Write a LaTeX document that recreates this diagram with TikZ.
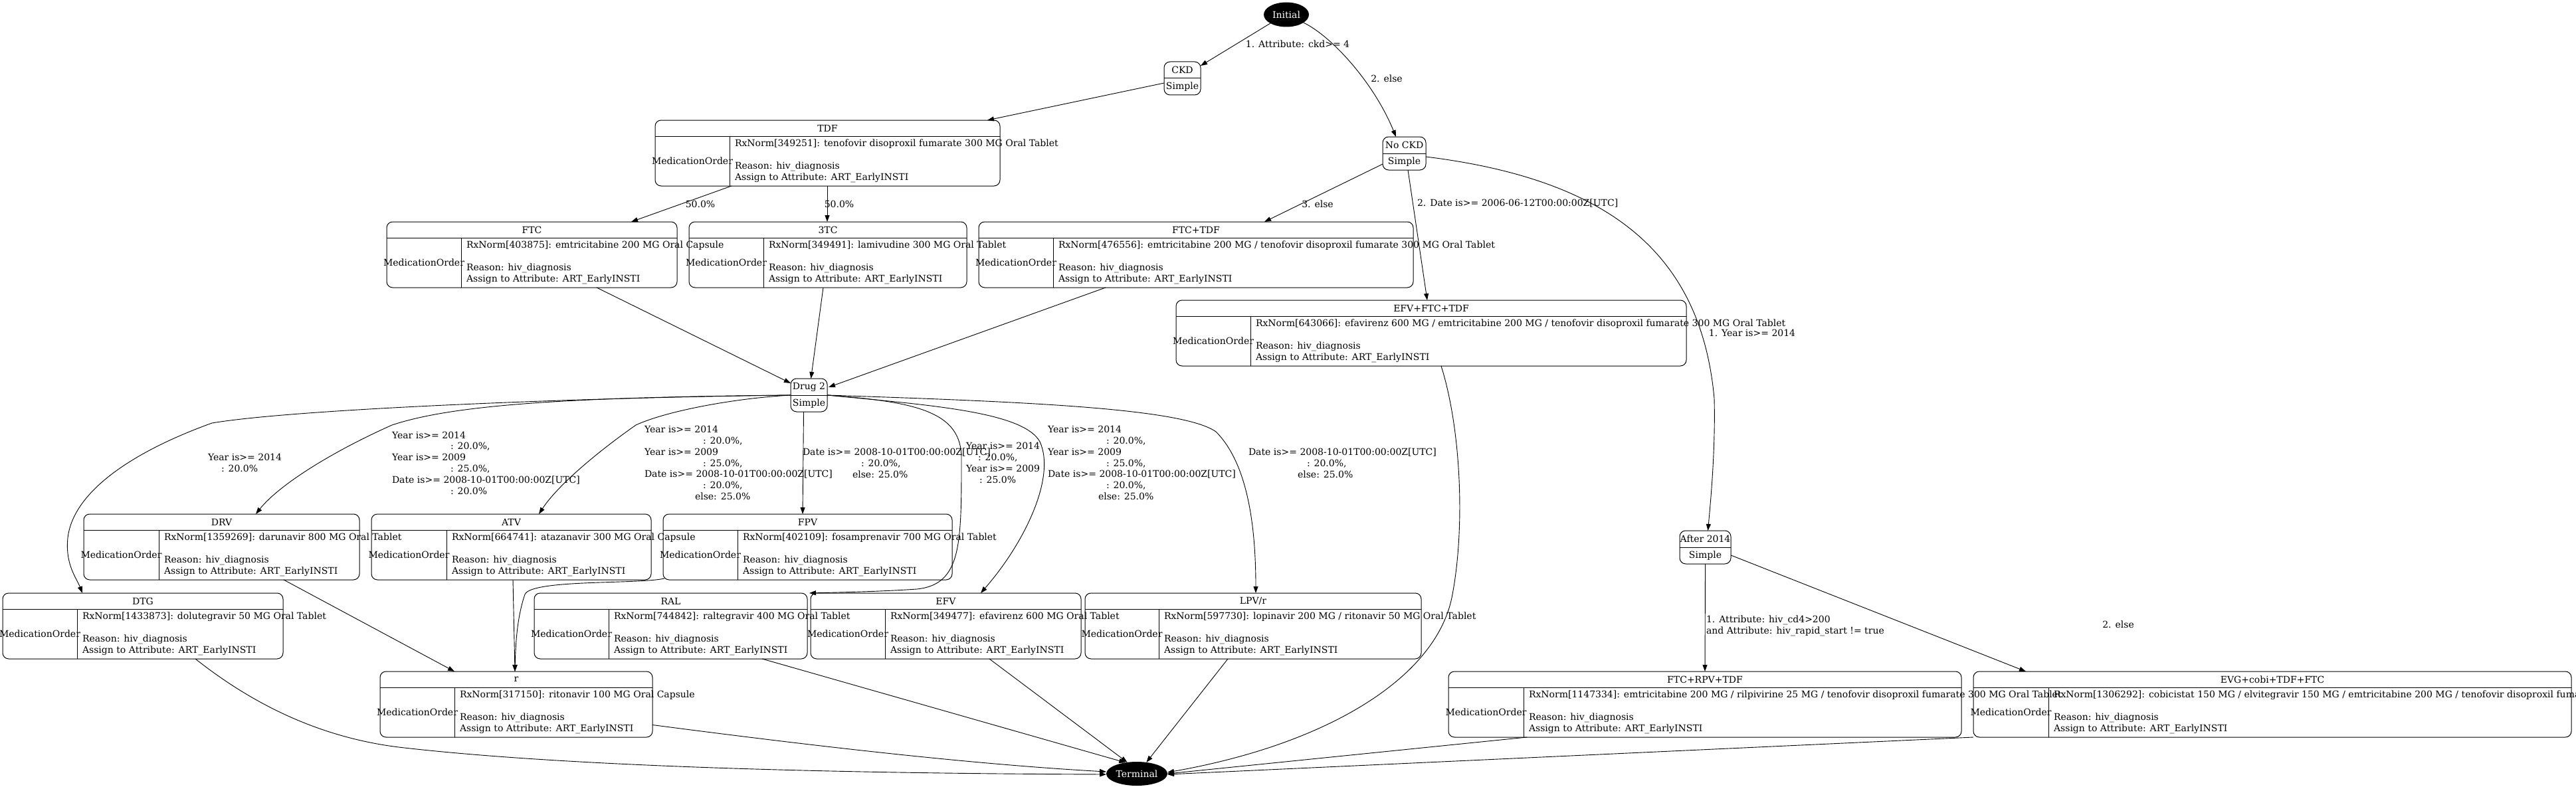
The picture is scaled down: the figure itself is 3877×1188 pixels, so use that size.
\documentclass[tikz,border=0pt]{standalone}
\usepackage{fontspec}
\setmainfont{DejaVu Serif}
\usetikzlibrary{arrows.meta,shapes.geometric,calc}
\tikzset{
 gv/.style={font=\fontsize{14}{16.8}\selectfont, inner sep=0pt, outer sep=0pt},
 boxs/.style={draw, rounded corners=9pt, line width=1pt, anchor=north west, inner sep=0pt},
 sepline/.style={line width=1pt},
 arr/.style={line width=0.9pt, -{Triangle[length=10pt,width=7pt]}},
 term/.style={ellipse, fill=black, text=white},
 lbl/.style={align=left, anchor=west},
}
\newcommand\gvmed[7]{%
 \node[boxs, minimum width={#3-#2}, minimum height=99] (#1) at (#2,#4) {};
 \draw[sepline] (#2,#4+24) -- (#3,#4+24);
 \draw[sepline] (#5,#4+24) -- (#5,#4+99);
 \node (#1t) at ({(#2+#3)/2},#4+12) {#6};
 \node (#1m) at ({(#2+#5)/2},#4+61.5) {MedicationOrder};
 \node[anchor=west, align=left] (#1b) at (#5+8,#4+61.5) {#7\\ ~ \\Reason: hiv\_diagnosis\\Assign to Attribute: ART\_EarlyINSTI};
}
\newcommand\gvsimple[5]{%
 \node[boxs, minimum width={#3-#2}, minimum height=50] (#1) at (#2,#4) {};
 \draw[sepline] (#2,#4+25) -- (#3,#4+25);
 \node (#1t) at ({(#2+#3)/2},#4+12.5) {#5};
 \node (#1s) at ({(#2+#3)/2},#4+37.5) {Simple};
}
\begin{document}
\begin{tikzpicture}[x=1pt,y=-1pt,every node/.style=gv]
\useasboundingbox (0,0) rectangle (3877,1188);
\clip (0,0) rectangle (3877,1188);
\fill[white] (0,0) rectangle (3877,1188);

% terminal states
\node[term, minimum width=68, minimum height=37] (Initial) at (1936,22) {Initial};
\node[term, minimum width=92, minimum height=36] (Terminal) at (1711,1165) {Terminal};

% simple states
\gvsimple{CKD}{1752}{1807}{93}{CKD}
\gvsimple{NoCKD}{2081}{2146}{206}{No CKD}
\gvsimple{Drug2}{1190}{1245}{570}{Drug 2}
\gvsimple{After}{2528}{2605}{799}{After 2014}

% medication orders
\gvmed{TDF}{986}{1505}{181}{1098}{TDF}{RxNorm[349251]: tenofovir disoproxil fumarate 300 MG Oral Tablet}
\gvmed{FTC}{582}{1019}{334}{694}{FTC}{RxNorm[403875]: emtricitabine 200 MG Oral Capsule}
\gvmed{TTC}{1037}{1455}{334}{1149}{3TC}{RxNorm[349491]: lamivudine 300 MG Oral Tablet}
\gvmed{FTCTDF}{1473}{2127}{334}{1585}{FTC+TDF}{RxNorm[476556]: emtricitabine 200 MG / tenofovir disoproxil fumarate 300 MG Oral Tablet}
\gvmed{EFVFTCTDF}{1770}{2538}{452}{1882}{EFV+FTC+TDF}{RxNorm[643066]: efavirenz 600 MG / emtricitabine 200 MG / tenofovir disoproxil fumarate 300 MG Oral Tablet}
\gvmed{DRV}{126}{541}{774}{239}{DRV}{RxNorm[1359269]: darunavir 800 MG Oral Tablet}
\gvmed{ATV}{559}{980}{774}{672}{ATV}{RxNorm[664741]: atazanavir 300 MG Oral Capsule}
\gvmed{FPV}{998}{1433}{774}{1110}{FPV}{RxNorm[402109]: fosamprenavir 700 MG Oral Tablet}
\gvmed{DTG}{4}{426}{893}{116}{DTG}{RxNorm[1433873]: dolutegravir 50 MG Oral Tablet}
\gvmed{RAL}{804}{1215}{893}{916}{RAL}{RxNorm[744842]: raltegravir 400 MG Oral Tablet}
\gvmed{EFV}{1220}{1627}{893}{1332}{EFV}{RxNorm[349477]: efavirenz 600 MG Oral Tablet}
\gvmed{LPVr}{1633}{2139}{893}{1744}{LPV/r}{RxNorm[597730]: lopinavir 200 MG / ritonavir 50 MG Oral Tablet}
\gvmed{r}{572}{982}{1011}{684}{r}{RxNorm[317150]: ritonavir 100 MG Oral Capsule}
\gvmed{FTCRPVTDF}{2180}{2952}{1011}{2293}{FTC+RPV+TDF}{RxNorm[1147334]: emtricitabine 200 MG / rilpivirine 25 MG / tenofovir disoproxil fumarate 300 MG Oral Tablet}
\gvmed{EVG}{2970}{3870}{1011}{3083}{EVG+cobi+TDF+FTC}{RxNorm[1306292]: cobicistat 150 MG / elvitegravir 150 MG / emtricitabine 200 MG / tenofovir disoproxil fumarate 300 MG Oral Tablet}

% connectors
\draw[arr] (Initial.south west) -- ($(CKD.north east)+(0,6)$);
\draw[arr] (Initial.-25) .. controls +(43,21) and +(-33,-81) .. ($(NoCKD.north west)+(20,0)$);
\draw[arr] ($(CKD.west)+(0,7)$) -- ($(TDF.north west)+(500,0)$);
\draw[arr] ($(TDF.south west)+(115,0)$) -- ($(FTC.north west)+(368,0)$);
\draw[arr] ($(TDF.south west)+(259,0)$) -- ($(TTC.north west)+(208,0)$);
\draw[arr] ($(NoCKD.west)+(0,16)$) -- ($(FTCTDF.north west)+(430,0)$);
\draw[arr] ($(NoCKD.south west)+(38,0)$) -- ($(EFVFTCTDF.north west)+(378,0)$);
\draw[arr] ($(NoCKD.east)+(0,5)$) .. controls (2420,270) and (2560,380) .. (2580,600) .. controls (2582,680) and (2574,760) .. ($(After.north)+(4,0)$);
\draw[arr] (After.south) -- ($(FTCRPVTDF.north west)+(386,0)$);
\draw[arr] ($(After.east)+(0,12)$) -- ($(EVG.north west)+(79,0)$);
\draw[arr] ($(FTC.south west)+(316,0)$) -- ($(Drug2.west)+(0,-18)$);
\draw[arr] ($(TTC.south west)+(202,0)$) -- ($(Drug2.north)+(3,0)$);
\draw[arr] ($(FTCTDF.south west)+(191,0)$) -- ($(Drug2.east)+(2,-12)$);

\draw[arr] (Drug2.west) .. controls (900,598) and (450,615) .. (319,637) .. controls (200,680) and (110,740) .. (102,810) .. controls (98,850) and (115,870) .. ($(DTG.north west)+(120,0)$);
\draw[arr] (Drug2.west) .. controls (850,598) and (680,610) .. (590,640) .. controls (500,680) and (420,730) .. ($(DRV.north west)+(259,0)$);
\draw[arr] (Drug2.west) .. controls (1100,600) and (1000,620) .. (957,640) .. controls (900,680) and (840,730) .. ($(ATV.north west)+(252,0)$);
\draw[arr] ($(Drug2.south)+(-8,0)$) -- ($(FPV.north west)+(210,0)$);
\draw[arr] (Drug2.east) .. controls (1380,605) and (1447,620) .. (1447,690) .. controls (1447,820) and (1447,880) .. (1380,887) .. controls (1320,891) and (1260,892) .. ($(RAL.north east)+(3,0)$);
\draw[arr] (Drug2.east) .. controls (1400,610) and (1540,620) .. (1565,665) .. controls (1590,720) and (1540,820) .. ($(EFV.north west)+(256,0)$);
\draw[arr] (Drug2.east) .. controls (1550,605) and (1780,615) .. (1830,650) .. controls (1880,700) and (1890,800) .. ($(LPVr.north west)+(257,0)$);

\draw[arr] ($(DRV.south west)+(301,0)$) -- ($(r.north west)+(112,0)$);
\draw[arr] ($(ATV.south west)+(213,0)$) -- ($(r.north west)+(203,0)$);
\draw[arr] ($(FPV.south west)+(2,-2)$) .. controls (960,880) and (800,872) .. (790,895) .. controls (778,930) and (776,970) .. ($(r.north west)+(203,0)$);

\draw[arr] ($(DTG.south west)+(290,0)$) .. controls (380,1060) and (480,1110) .. (600,1125) .. controls (900,1160) and (1400,1165) .. ($(Terminal.west)+(0,1)$);
\draw[arr] ($(r.east)+(0,31)$) .. controls (1200,1120) and (1450,1150) .. ($(Terminal.west)+(0,-3)$);
\draw[arr] ($(RAL.south west)+(343,0)$) -- (Terminal.135);
\draw[arr] ($(EFV.south west)+(269,0)$) -- (Terminal.130);
\draw[arr] ($(LPVr.south west)+(215,0)$) -- (Terminal.50);
\draw[arr] ($(EFVFTCTDF.south west)+(399,0)$) .. controls (2200,650) and (2205,800) .. (2185,900) .. controls (2160,1020) and (2000,1120) .. ($(Terminal.east)+(0,-2)$);
\draw[arr] ($(FTCRPVTDF.south west)+(118,0)$) -- (Terminal.east);
\draw[arr] (EVG.south west) -- ($(Terminal.east)+(0,1)$);

% connector labels
\node (l1) at (1953,66) {1. Attribute: ckd>= 4};
\node (l2) at (2087,118) {2. else};
\node (l3) at (1054,307) {50.0\%};
\node (l4) at (1263,307) {50.0\%};
\node (l5) at (1983,307) {3. else};
\node[anchor=west] (l6) at (2133,306) {2. Date is>= 2006-06-12T00:00:00Z[UTC]};
\node (l7) at (2637,501) {1. Year is>= 2014};
\node[lbl] (l8) at (2568,942) {1. Attribute: hiv\_cd4>200\\and Attribute: hiv\_rapid\_start != true};
\node (l9) at (3188,940) {2. else};

\node[lbl] (l10) at (313,697) {Year is>= 2014\\\hspace*{20pt}: 20.0\%};
\node[lbl] (l11) at (590,697) {Year is>= 2014\\\hspace*{88pt}: 20.0\%,\\Year is>= 2009\\\hspace*{88pt}: 25.0\%,\\Date is>= 2008-10-01T00:00:00Z[UTC]\\\hspace*{88pt}: 20.0\%};
\node[lbl] (l12) at (970,697) {Year is>= 2014\\\hspace*{88pt}: 20.0\%,\\Year is>= 2009\\\hspace*{88pt}: 25.0\%,\\Date is>= 2008-10-01T00:00:00Z[UTC]\\\hspace*{88pt}: 20.0\%,\\\hspace*{76pt}else: 25.0\%};
\node[lbl] (l13) at (1208,697) {Date is>= 2008-10-01T00:00:00Z[UTC]\\\hspace*{88pt}: 20.0\%,\\\hspace*{75pt}else: 25.0\%};
\node[lbl] (l14) at (1454,697) {Year is>= 2014\\\hspace*{18pt}: 20.0\%,\\Year is>= 2009\\\hspace*{20pt}: 25.0\%};
\node[lbl] (l15) at (1577,697) {Year is>= 2014\\\hspace*{88pt}: 20.0\%,\\Year is>= 2009\\\hspace*{88pt}: 25.0\%,\\Date is>= 2008-10-01T00:00:00Z[UTC]\\\hspace*{88pt}: 20.0\%,\\\hspace*{76pt}else: 25.0\%};
\node[lbl] (l16) at (1879,697) {Date is>= 2008-10-01T00:00:00Z[UTC]\\\hspace*{88pt}: 20.0\%,\\\hspace*{74pt}else: 25.0\%};
\end{tikzpicture}
\end{document}
